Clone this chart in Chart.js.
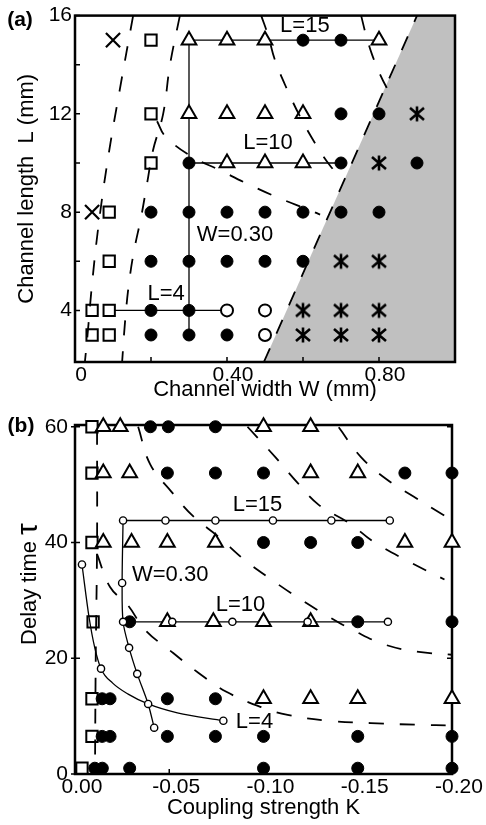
<!DOCTYPE html>
<html>
<head>
<meta charset="utf-8">
<script src="https://cdn.jsdelivr.net/npm/chart.js@4/dist/chart.umd.min.js"></script>
<style>
  html, body { margin: 0; padding: 0; background: #fff; }
  canvas { display: block; }
</style>
</head>
<body>
<canvas id="chartA" width="486" height="405"></canvas>
<canvas id="chartB" width="486" height="420"></canvas>
<script>
// ---------- panel (a) : channel width W (mm) / channel length L (mm)
const aXTickVals = [0, 0.2, 0.4, 0.6, 0.8];
const aXTickText = ['0', '', '0.40', '', '0.80'];
const aYTickVals = [4, 6, 8, 10, 12, 14, 16];
const aYTickText = ['4', '', '8', '', '12', '', '16'];

// filled circles
const aDotW = [0.6, 0.7, 0.7, 0.8, 0.3, 0.7, 0.9, 0.2, 0.3, 0.4, 0.5, 0.6, 0.7, 0.8, 0.2, 0.3, 0.4, 0.5, 0.6, 0.2, 0.3, 0.2, 0.3, 0.4];
const aDotL = [15, 15, 12, 12, 10, 10, 10, 8, 8, 8, 8, 8, 8, 8, 6, 6, 6, 6, 6, 4, 4, 3, 3, 3];
// open triangles
const aTriW = [0.3, 0.4, 0.5, 0.8, 0.3, 0.4, 0.5, 0.6, 0.4, 0.5, 0.6];
const aTriL = [15, 15, 15, 15, 12, 12, 12, 12, 10, 10, 10];
// open squares
const aSqW = [0.2, 0.2, 0.2, 0.09, 0.09, 0.045, 0.09, 0.045, 0.09];
const aSqL = [15, 12, 10, 8, 6, 4, 4, 3, 3];
// crosses
const aCrossW = [0.1, 0.045];
const aCrossL = [15, 8];
// open circles
const aRingW = [0.4, 0.5, 0.5];
const aRingL = [4, 4, 3];
// asterisks
const aStarW = [0.9, 0.8, 0.7, 0.8, 0.6, 0.7, 0.8, 0.6, 0.7, 0.8];
const aStarL = [12, 10, 6, 6, 4, 4, 4, 3, 3, 3];

// solid guide lines
const aL15W = [0.3, 0.8], aL15L = [15, 15];
const aL10W = [0.3, 0.7], aL10L = [10, 10];
const aL4W = [0.09, 0.4], aL4L = [4, 4];
const aW30W = [0.3, 0.3], aW30L = [3, 15];

// dashed boundaries
const aDashA_W = [0.153, 0.118, 0.089, 0.063, 0.045, 0.033, 0.026];
const aDashA_L = [16, 13, 10.4, 7.6, 5.1, 3, 1.9];
const aDashB_W = [0.276, 0.25, 0.232, 0.205, 0.19, 0.174, 0.155, 0.142, 0.132, 0.124];
const aDashB_L = [16, 14, 12, 10.5, 9.2, 7.8, 6.4, 5.1, 3.6, 1.9];
const aDashC_W = [0.216, 0.237, 0.303, 0.382, 0.461, 0.539, 0.618, 0.645];
const aDashC_L = [11.7, 11.1, 10.3, 9.7, 9.1, 8.56, 8.08, 7.9];
const aDashD_W = [0.49, 0.508, 0.526, 0.558, 0.592, 0.632, 0.671, 0.703];
const aDashD_L = [16, 15.2, 14.2, 13, 11.9, 10.8, 9.9, 9.36];
const aDashE_W = [0.753, 0.766, 0.782, 0.803, 0.829];
const aDashE_L = [16, 15.2, 14.4, 13.6, 12.8];
// shaded region edge
const aEdgeW = [0.497, 0.9];
const aEdgeL = [1.9, 16];
const aShadeW = [0.497, 0.9, 1.0];
const aShadeL = [1.9, 16, 16];

const aNoteText = ['L=15', 'L=10', 'W=0.30', 'L=4'];
const aNoteW = [0.605, 0.508, 0.421, 0.24];
const aNoteL = [15.56, 10.8, 7.08, 4.68];

// ---------- panel (b) : coupling strength K / delay time tau
const bXTickVals = [0, -0.05, -0.1, -0.15, -0.2];
const bXTickText = ['0.00', '-0.05', '-0.10', '-0.15', '-0.20'];
const bYTickVals = [0, 20, 40, 60];
const bYTickText = ['0', '20', '40', '60'];

const bDotK = [-0.04, -0.0495, -0.0745,
  -0.049, -0.0745, -0.1, -0.175, -0.2,
  -0.1, -0.125, -0.15,
  -0.029, -0.15, -0.2,
  -0.0144, -0.0186, -0.049, -0.0745,
  -0.0144, -0.0186, -0.049, -0.0745, -0.1, -0.15, -0.2,
  -0.0105, -0.0145, -0.029, -0.1, -0.15, -0.2];
const bDotT = [60, 60, 60,
  52, 52, 52, 52, 52,
  40, 40, 40,
  26.3, 26.3, 26.3,
  13, 13, 13, 13,
  6.5, 6.5, 6.5, 6.5, 6.5, 6.5, 6.5,
  1, 1, 1, 1, 1, 1];
const bTriK = [-0.015, -0.024, -0.1, -0.125,
  -0.015, -0.029, -0.125, -0.15,
  -0.015, -0.03, -0.049, -0.0745, -0.175, -0.2,
  -0.049, -0.0734, -0.1, -0.125,
  -0.1, -0.125, -0.15, -0.2];
const bTriT = [60, 60, 60, 60,
  52, 52, 52, 52,
  40, 40, 40, 40, 40, 40,
  26.3, 26.3, 26.3, 26.3,
  13, 13, 13, 13];
const bSqK = [-0.009, -0.009, -0.009, -0.0096, -0.009, -0.009, -0.0037];
const bSqT = [60, 52, 40, 26.3, 13, 6.5, 1];

// small open circles on the constant-L / constant-W runs
const bRingK = [-0.0255, -0.048, -0.0745, -0.105, -0.136, -0.167,
  -0.0516, -0.0835, -0.1234, -0.166,
  -0.025, -0.0255, -0.0287, -0.033, -0.0388, -0.042,
  -0.0037, -0.0138, -0.0787];
const bRingT = [43.8, 43.8, 43.8, 43.8, 43.8, 43.8,
  26.3, 26.3, 26.3, 26.3,
  33, 26.3, 21.8, 17.3, 12.1, 8.0,
  36.2, 18.2, 9.2];

const bL15K = [-0.0255, -0.167], bL15T = [43.8, 43.8];
const bL10K = [-0.0255, -0.166], bL10T = [26.3, 26.3];
const bW30K = [-0.0255, -0.025, -0.0255, -0.0287, -0.033, -0.0388, -0.042];
const bW30T = [43.8, 33, 26.3, 21.8, 17.3, 12.1, 8.0];
const bL4K = [-0.0037, -0.0075, -0.0105, -0.0138, -0.02, -0.0282, -0.0388, -0.0543, -0.0787];
const bL4T = [36.2, 27, 21.8, 18.2, 15.7, 13.8, 12.1, 10.55, 9.2];

const bDash1K = [-0.0117, -0.0117, -0.011, -0.0106];
const bDash1T = [59.5, 40, 20, 0];
const bDash2K = [-0.0117, -0.0186, -0.0282, -0.0372, -0.0521, -0.0654, -0.0803, -0.1, -0.1128, -0.1346, -0.1569, -0.1824, -0.2];
const bDash2T = [38, 32.3, 29.1, 24.9, 20.9, 17.5, 14.2, 11.4, 10.2, 9.2, 8.8, 8.5, 8.4];
const bDash3K = [-0.0335, -0.0399, -0.0511, -0.0628, -0.0761, -0.0899, -0.1037, -0.1186, -0.133, -0.149, -0.1649, -0.1824, -0.2];
const bDash3T = [60, 53.5, 48.8, 44.5, 41, 37, 33.7, 30.4, 27.5, 24.6, 22.3, 21.1, 20.6];
const bDash4K = [-0.0915, -0.1064, -0.1181, -0.1293, -0.1457, -0.1585, -0.1771, -0.196];
const bDash4T = [60, 54.7, 50.3, 46.5, 43.3, 40.1, 36.7, 33.6];
const bDash5K = [-0.1399, -0.1516, -0.1649, -0.1798, -0.1952, -0.2];
const bDash5T = [59.9, 54.8, 51, 47.9, 44.8, 44];

const bNoteText = ['L=15', 'W=0.30', 'L=10', 'L=4'];
const bNoteK = [-0.0968, -0.0505, -0.0878, -0.0952];
const bNoteT = [46.5, 34.4, 29.2, 9.0];

// ---------- helpers
Chart.defaults.font.family = "'Liberation Sans', Arial, sans-serif";
Chart.defaults.color = '#000';

function pts(xs, ys) {
  return xs.map((x, i) => ({ x: x, y: ys[i] }));
}

// asterisk marker drawn once on a small canvas
function makeStar() {
  const c = document.createElement('canvas');
  c.width = 18; c.height = 18;
  const g = c.getContext('2d');
  g.strokeStyle = '#000';
  g.lineWidth = 2.6;
  g.beginPath();
  g.moveTo(9, 1.5); g.lineTo(9, 16.5);
  g.moveTo(2, 3); g.lineTo(16, 15);
  g.moveTo(16, 3); g.lineTo(2, 15);
  g.stroke();
  return c;
}
const starImg = makeStar();

function marks(xs, ys, style, r, fill, bw) {
  return {
    data: pts(xs, ys), showLine: false, pointStyle: style,
    pointRadius: r, pointBackgroundColor: fill, pointBorderColor: '#000',
    pointBorderWidth: bw, order: 3, clip: false
  };
}
function solid(xs, ys, extra) {
  return Object.assign({
    data: pts(xs, ys), borderColor: '#000', borderWidth: 1.3,
    pointRadius: 0, fill: false, order: 6
  }, extra || {});
}
function dashed(xs, ys) {
  return {
    data: pts(xs, ys), borderColor: '#000', borderWidth: 1.8,
    borderDash: [15, 16], pointRadius: 0, tension: 0.4, fill: false, order: 1
  };
}

function drawFrame(chart, o) {
  const { ctx, chartArea: a, scales: { x, y } } = chart;
  ctx.save();
  ctx.strokeStyle = '#000';
  ctx.lineWidth = o.lw;
  ctx.strokeRect(a.left, a.top, a.right - a.left, a.bottom - a.top);
  ctx.lineWidth = 1.5;
  ctx.beginPath();
  x.ticks.forEach(t => {
    const p = x.getPixelForValue(t.value);
    ctx.moveTo(p, a.bottom); ctx.lineTo(p, a.bottom - o.tick);
  });
  y.ticks.forEach(t => {
    const p = y.getPixelForValue(t.value);
    ctx.moveTo(a.left - o.out, p); ctx.lineTo(a.left + o.tick, p);
    if (o.right) { ctx.moveTo(a.right, p); ctx.lineTo(a.right - o.tick, p); }
  });
  ctx.stroke();
  ctx.restore();
}

const framePlugin = {
  id: 'frame',
  beforeDatasetsDraw(chart, args, o) {
    if (o.afterIndex < 0) drawFrame(chart, o);
  },
  afterDatasetDraw(chart, args, o) {
    if (args.index === o.afterIndex) drawFrame(chart, o);
  },
  afterDraw(chart, args, o) {
    const { ctx, scales: { x, y } } = chart;
    ctx.save();
    ctx.fillStyle = '#000';
    ctx.textAlign = 'center';
    ctx.textBaseline = 'middle';
    ctx.font = "22px 'Liberation Sans', Arial, sans-serif";
    o.notes.text.forEach((t, i) => {
      ctx.fillText(t, x.getPixelForValue(o.notes.x[i]), y.getPixelForValue(o.notes.y[i]));
    });
    ctx.font = "bold 21px 'Liberation Sans', Arial, sans-serif";
    ctx.fillText(o.tag.text, o.tag.x, o.tag.y);
    if (o.yTitle) {
      const f1 = "22px 'Liberation Sans', Arial, sans-serif";
      const f2 = "30px 'Liberation Sans', Arial, sans-serif";
      ctx.font = f1;
      const w1 = ctx.measureText(o.yTitle.text).width;
      ctx.font = f2;
      const w2 = ctx.measureText(o.yTitle.sym).width;
      ctx.translate(o.yTitle.x, o.yTitle.y);
      ctx.rotate(-Math.PI / 2);
      ctx.textAlign = 'left';
      ctx.font = f1;
      ctx.fillText(o.yTitle.text, -(w1 + w2) / 2, 0);
      ctx.font = f2;
      ctx.fillText(o.yTitle.sym, -(w1 + w2) / 2 + w1, -1);
    }
    ctx.restore();
  }
};

const tickFont = { size: 21 };
const titleFont = { size: 22 };
const noGrid = { display: false, drawTicks: false };

// ---------- chart (a)
new Chart(document.getElementById('chartA'), {
  type: 'line',
  data: {
    datasets: [
      { data: pts(aShadeW, aShadeL), borderWidth: 0, borderColor: 'rgba(0,0,0,0)',
        backgroundColor: '#c0c0c0', fill: 'start', pointRadius: 0, order: 10 },
      solid(aL15W, aL15L), solid(aL10W, aL10L), solid(aL4W, aL4L), solid(aW30W, aW30L),
      marks(aDotW, aDotL, 'circle', 6, '#000', 1),
      marks(aTriW, aTriL, 'triangle', 8.5, '#fff', 2),
      marks(aSqW, aSqL, 'rect', 8, '#fff', 2),
      marks(aCrossW, aCrossL, 'crossRot', 10, '#000', 2.2),
      marks(aRingW, aRingL, 'circle', 6, '#fff', 2),
      marks(aStarW, aStarL, starImg, 8, '#000', 1),
      dashed(aDashA_W, aDashA_L), dashed(aDashB_W, aDashB_L), dashed(aDashC_W, aDashC_L),
      dashed(aDashD_W, aDashD_L), dashed(aDashE_W, aDashE_L),
      Object.assign(dashed(aEdgeW, aEdgeL), { tension: 0 })
    ]
  },
  options: {
    responsive: false, animation: false, events: [], devicePixelRatio: 1,
    layout: { padding: { top: 10, right: 31, left: 0, bottom: 0 } },
    plugins: {
      legend: { display: false }, tooltip: { enabled: false },
      frame: {
        afterIndex: 0, lw: 2.5, tick: 5, out: 0, right: false,
        notes: { text: aNoteText, x: aNoteW, y: aNoteL },
        tag: { text: '(a)', x: 20, y: 20 }
      }
    },
    scales: {
      x: {
        type: 'linear', min: 0, max: 1,
        grid: noGrid, border: { display: false },
        afterBuildTicks: s => { s.ticks = aXTickVals.map(v => ({ value: v })); },
        afterFit: s => { s.height = 43; },
        ticks: { autoSkip: false, maxRotation: 0, padding: 1, labelOffset: 6, font: tickFont,
                 callback: (v, i) => aXTickText[i] },
        title: { display: true, text: 'Channel width W (mm)', font: titleFont, padding: { top: 0, bottom: 2 } }
      },
      y: {
        type: 'linear', min: 1.9, max: 16,
        grid: noGrid, border: { display: false },
        afterBuildTicks: s => { s.ticks = aYTickVals.map(v => ({ value: v })); },
        afterFit: s => { s.width = 75; },
        ticks: { autoSkip: false, padding: 3, font: tickFont, callback: (v, i) => aYTickText[i] },
        title: { display: true, text: 'Channel length  L (mm)', font: titleFont, padding: { top: 14, bottom: 0 } }
      }
    }
  },
  plugins: [framePlugin]
});

// ---------- chart (b)
new Chart(document.getElementById('chartB'), {
  type: 'line',
  data: {
    datasets: [
      solid(bL15K, bL15T), solid(bL10K, bL10T),
      solid(bW30K, bW30T, { tension: 0.3 }),
      solid(bL4K, bL4T, { cubicInterpolationMode: 'monotone', order: 2 }),
      marks(bDotK, bDotT, 'circle', 6, '#000', 1),
      marks(bTriK, bTriT, 'triangle', 8.5, '#fff', 2),
      marks(bSqK, bSqT, 'rect', 8, '#fff', 2),
      Object.assign(marks(bRingK, bRingT, 'circle', 3.6, '#fff', 1.4), { order: 0 }),
      dashed(bDash1K, bDash1T), dashed(bDash2K, bDash2T), dashed(bDash3K, bDash3T),
      dashed(bDash4K, bDash4T), dashed(bDash5K, bDash5T)
    ]
  },
  options: {
    responsive: false, animation: false, events: [], devicePixelRatio: 1,
    layout: { padding: { top: 20, right: 34, left: 0, bottom: 0 } },
    plugins: {
      legend: { display: false }, tooltip: { enabled: false },
      frame: {
        afterIndex: -1, lw: 2.5, tick: 5, out: 4, right: true,
        notes: { text: bNoteText, x: bNoteK, y: bNoteT },
        tag: { text: '(b)', x: 21, y: 21 },
        yTitle: { text: 'Delay time ', sym: '\u03c4', x: 30, y: 179 }
      }
    },
    scales: {
      x: {
        type: 'linear', min: -0.2, max: 0, reverse: true,
        grid: noGrid, border: { display: false },
        afterBuildTicks: s => { s.ticks = bXTickVals.map(v => ({ value: v })); },
        afterFit: s => { s.height = 51; },
        ticks: { autoSkip: false, maxRotation: 0, padding: 1, labelOffset: 7, font: tickFont,
                 callback: (v, i) => bXTickText[i] },
        title: { display: true, text: 'Coupling strength K', font: titleFont, padding: { top: 0, bottom: 4 } }
      },
      y: {
        type: 'linear', min: 0, max: 60.3,
        grid: noGrid, border: { display: false },
        afterBuildTicks: s => { s.ticks = bYTickVals.map(v => ({ value: v })); },
        afterFit: s => { s.width = 75; },
        ticks: { autoSkip: false, padding: 7, font: tickFont, callback: (v, i) => bYTickText[i] },
        title: { display: false }
      }
    }
  },
  plugins: [framePlugin]
});
</script>
</body>
</html>
